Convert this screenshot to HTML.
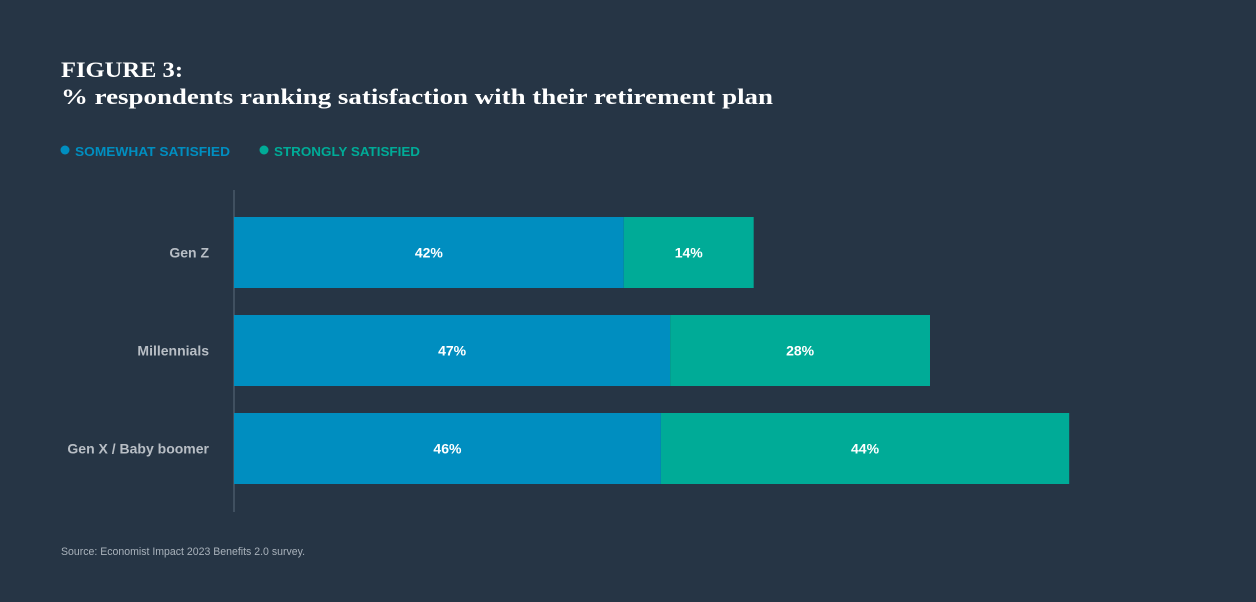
<!DOCTYPE html>
<html><head><meta charset="utf-8"><style>
html,body{margin:0;padding:0;background:#263545;}
svg{display:block;}
</style></head><body>
<svg id="chart" width="1256" height="602" viewBox="0 0 1256 602" xmlns="http://www.w3.org/2000/svg">
<rect x="0" y="0" width="1256" height="602" fill="#263545"/>
<text x="61" y="77" font-family="Liberation Serif, serif" font-weight="bold" font-size="22" fill="#ffffff" textLength="122" lengthAdjust="spacingAndGlyphs">FIGURE 3:</text>
<text x="61" y="104" font-family="Liberation Serif, serif" font-weight="bold" font-size="22" fill="#ffffff" textLength="712" lengthAdjust="spacingAndGlyphs">% respondents ranking satisfaction with their retirement plan</text>
<g>
<circle cx="65" cy="150" r="4.5" fill="#008ec0"/>
<text x="75" y="156" font-family="Liberation Sans, sans-serif" font-weight="bold" font-size="13" fill="#008ec0" textLength="155" lengthAdjust="spacingAndGlyphs">SOMEWHAT SATISFIED</text>
<circle cx="264" cy="150" r="4.5" fill="#00ab97"/>
<text x="274" y="156" font-family="Liberation Sans, sans-serif" font-weight="bold" font-size="13" fill="#00ab97" textLength="146" lengthAdjust="spacingAndGlyphs">STRONGLY SATISFIED</text>
</g>
<line x1="234" y1="190" x2="234" y2="512" stroke="#5a6a7a" stroke-width="1"/>
<g id="bars"></g>
<text x="61" y="555" font-family="Liberation Sans, sans-serif" font-size="11" fill="#a9b2bb" textLength="244" lengthAdjust="spacingAndGlyphs">Source: Economist Impact 2023 Benefits 2.0 survey.</text>
</svg>
<script>
const categories = ["Gen Z", "Millennials", "Gen X / Baby boomer"];
const somewhat = [42, 47, 46];
const strongly = [14, 28, 44];

const NS = "http://www.w3.org/2000/svg";
const x0 = 234, pxPerPct = 9.28;
const xScale = v => v * pxPerPct;
const rowTop = i => 217 + i * 98;
const barH = 71;
const g = document.getElementById("bars");
function mk(tag, attrs) {
  const e = document.createElementNS(NS, tag);
  for (const k in attrs) e.setAttribute(k, attrs[k]);
  return e;
}
categories.forEach((c, i) => {
  const y = rowTop(i);
  const w1 = xScale(somewhat[i]), w2 = xScale(strongly[i]);
  const lab = mk("text", {x: 209, y: y + barH / 2 + 5, "text-anchor": "end", "font-family": "Liberation Sans, sans-serif", "font-weight": "bold", "font-size": "14", fill: "#b8bec5"});
  
  
  lab.textContent = c;
  g.appendChild(lab);
  const r1 = mk("rect", {x: x0, y: y, width: w1, height: barH, fill: "#008ec0"});
  
  
  g.appendChild(r1);
  const r2 = mk("rect", {x: x0 + w1, y: y, width: w2, height: barH, fill: "#00ab97"});
  
  
  g.appendChild(r2);
  const t1 = mk("text", {x: x0 + w1 / 2, y: y + barH / 2 + 5, "text-anchor": "middle", "font-family": "Liberation Sans, sans-serif", "font-weight": "bold", "font-size": "14", fill: "#ffffff"});
  
  
  t1.textContent = somewhat[i] + "%";
  g.appendChild(t1);
  const t2 = mk("text", {x: x0 + w1 + w2 / 2, y: y + barH / 2 + 5, "text-anchor": "middle", "font-family": "Liberation Sans, sans-serif", "font-weight": "bold", "font-size": "14", fill: "#ffffff"});
  
  
  t2.textContent = strongly[i] + "%";
  g.appendChild(t2);
});
</script>
</body></html>
